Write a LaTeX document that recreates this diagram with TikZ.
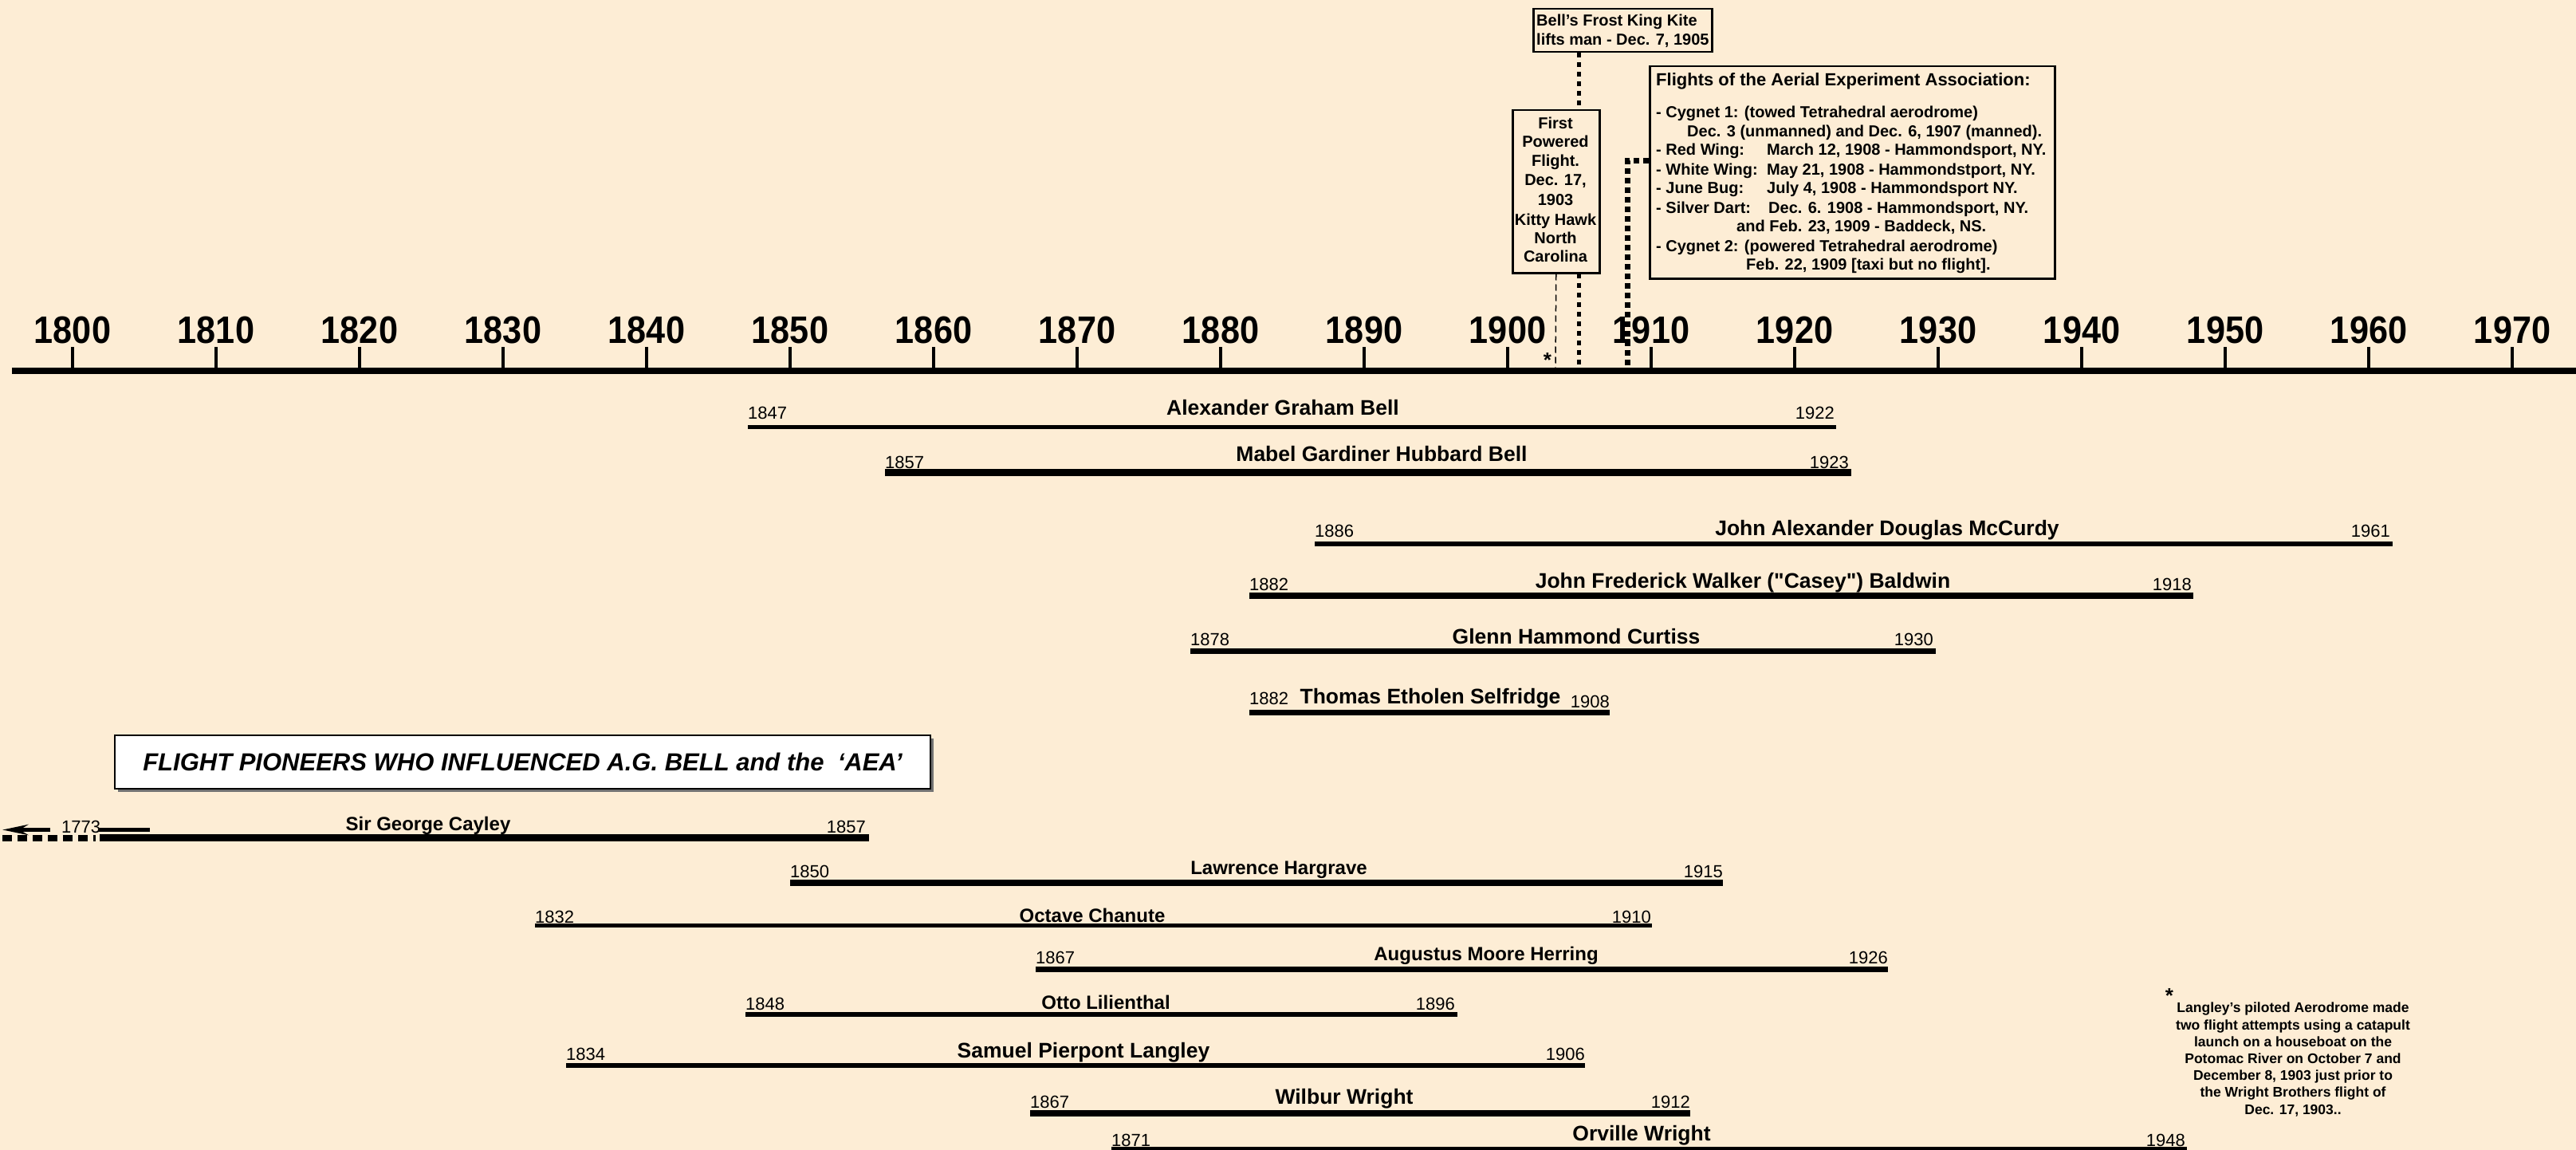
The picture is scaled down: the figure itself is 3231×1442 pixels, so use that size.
\documentclass[tikz,border=0pt]{standalone}
\usepackage{fontspec}
\setmainfont{Liberation Sans}
\newfontfamily\rawfont{Liberation Sans}
\usetikzlibrary{arrows.meta,calc}
\definecolor{bgc}{RGB}{253,237,213}
\tikzset{
  lifebar/.style={line width=#1},
  yrlab/.style={font=\fontsize{22}{22}\selectfont, inner sep=0pt},
  nameA/.style={font=\fontsize{26.5}{26.5}\selectfont\bfseries, inner sep=0pt, anchor=base},
  nameB/.style={font=\fontsize{24}{24}\selectfont\bfseries, inner sep=0pt, anchor=base},
  axislab/.style={font=\fontsize{48}{48}\selectfont\bfseries, inner sep=0pt, anchor=base},
  tickmark/.style={line width=4pt},
  axisline/.style={line width=8pt},
  boxtxt/.style={font=\fontsize{20}{20}\selectfont\bfseries, inner sep=0pt},
  notetxt/.style={font=\fontsize{17.5}{17.5}\selectfont\bfseries, inner sep=0pt, anchor=base},
  notebox/.style={draw, fill=bgc, line width=2.5pt, inner sep=0pt, anchor=north west},
  frostdots/.style={line width=5pt, dash pattern=on 6pt off 6pt},
  sqdots/.style={line width=7pt, dash pattern=on 7pt off 5pt},
  thindash/.style={line width=1.5pt, dash pattern=on 8pt off 5pt},
}
\begin{document}
\begin{tikzpicture}[x=1pt,y=-1pt]
\fill[bgc] (0,0) rectangle (3231,1442);
\useasboundingbox (0,0) rectangle (3231,1442);

% ---------- axis ----------
\coordinate (axl) at (15,465);
\coordinate (axr) at (3231,465);
\draw[axisline] (axl) -- (axr);
\foreach \i in {0,...,17}{
  \pgfmathtruncatemacro\yy{1800+10*\i}
  \pgfmathsetmacro\xx{91+180*\i}
  \draw[tickmark] (\xx,435) -- (\xx,462);
  \node[axislab] (y\yy) at (\xx,430) {\scalebox{0.9}[1]{\yy}};
}
\coordinate (t1905) at (1980,461);
\coordinate (t1903) at (1951,461);
\coordinate (t1908) at (2041,461);

% ---------- Frost King box ----------
\node[notebox, minimum width=224, minimum height=54] (frost) at (1922,10) {};
\node[boxtxt, anchor=base west] (frost1) at (1927,33) {Bell's Frost King Kite};
\node[boxtxt, anchor=base west] (frost2) at (1927,57) {lifts man - Dec. 7, 1905};
\draw[frostdots] (t1905 |- frost.south) -- (t1905);

% ---------- First powered flight box (drawn over the dotted line) ----------
\node[notebox, minimum width=109, minimum height=204] (first) at (1896,137) {};
\foreach \t/\b [count=\k] in {First/162, Powered/185, Flight./208, {Dec. 17,}/233, 1903/257, Kitty Hawk/282, North/305, Carolina/328}{
  \node[boxtxt, anchor=base] (first\k) at (1951,\b) {\t};
}
\draw[thindash] (first.south) -- (t1903);
\node[font=\fontsize{26}{26}\selectfont\bfseries, inner sep=0pt] (star1) at (1941,452) {*};

% ---------- AEA flights box ----------
\node[notebox, minimum width=508, minimum height=266] (flights) at (2068,82) {};
\node[boxtxt, font=\fontsize{22}{22}\selectfont\bfseries, anchor=base west] (fl0) at (2077,108) {Flights of the Aerial Experiment Association:};
\node[boxtxt, anchor=base west] (fl1) at (2077,148) {- Cygnet 1: (towed Tetrahedral aerodrome)};
\node[boxtxt, anchor=base west] (fl2) at (2116,172) {Dec. 3 (unmanned) and Dec. 6, 1907 (manned).};
\node[boxtxt, anchor=base west] (fl3) at (2077,195) {- Red Wing:};
\node[boxtxt, anchor=base west] (fl3b) at (2216,195) {March 12, 1908 - Hammondsport, NY.};
\node[boxtxt, anchor=base west] (fl4) at (2077,219) {- White Wing:};
\node[boxtxt, anchor=base west] (fl4b) at (2216,219) {May 21, 1908 - Hammondstport, NY.};
\node[boxtxt, anchor=base west] (fl5) at (2077,243) {- June Bug:};
\node[boxtxt, anchor=base west] (fl5b) at (2216,243) {July 4, 1908 - Hammondsport NY.};
\node[boxtxt, anchor=base west] (fl6) at (2077,267) {- Silver Dart:};
\node[boxtxt, anchor=base west] (fl6b) at (2218,267) {Dec. 6. 1908 - Hammondsport, NY.};
\node[boxtxt, anchor=base west] (fl7) at (2178,290) {and Feb. 23, 1909 - Baddeck, NS.};
\node[boxtxt, anchor=base west] (fl8) at (2077,315) {- Cygnet 2: (powered Tetrahedral aerodrome)};
\node[boxtxt, anchor=base west] (fl9) at (2190,338) {Feb. 22, 1909 [taxi but no flight].};
\draw[sqdots] ($(flights.north west)+(0,120)$) -| (t1908);

% ---------- AEA members ----------
% Bell
\draw[lifebar=5pt] (938,535.5) -- (2303,535.5);
\node[nameA] (n1) at (1609,520) {Alexander Graham Bell};
\node[yrlab, anchor=base west] (b1) at (938,525) {1847};
\node[yrlab, anchor=base east] (d1) at (2301,525) {1922};
% Mabel
\draw[lifebar=9pt] (1110,592.5) -- (2322,592.5);
\node[nameA] (n2) at (1733,578) {Mabel Gardiner Hubbard Bell};
\node[yrlab, anchor=base west] (b2) at (1110,587) {1857};
\node[yrlab, anchor=base east] (d2) at (2319,587) {1923};
% McCurdy
\draw[lifebar=6pt] (1649,682) -- (3001,682);
\node[nameA] (n3) at (2367,671) {John Alexander Douglas McCurdy};
\node[yrlab, anchor=base west] (b3) at (1649,673) {1886};
\node[yrlab, anchor=base east] (d3) at (2998,673) {1961};
% Baldwin
\draw[lifebar=8pt] (1567,747) -- (2751,747);
\node[nameA, font=\rawfont\fontsize{26.5}{26.5}\selectfont\bfseries] (n4) at (2186,737) {John Frederick Walker ("Casey") Baldwin};
\node[yrlab, anchor=base west] (b4) at (1567,740) {1882};
\node[yrlab, anchor=base east] (d4) at (2749,740) {1918};
% Curtiss
\draw[lifebar=7pt] (1493,816.5) -- (2428,816.5);
\node[nameA] (n5) at (1977,807) {Glenn Hammond Curtiss};
\node[yrlab, anchor=base west] (b5) at (1493,809) {1878};
\node[yrlab, anchor=base east] (d5) at (2425,809) {1930};
% Selfridge
\draw[lifebar=7pt] (1567,893.5) -- (2019,893.5);
\node[nameA] (n6) at (1794,882) {Thomas Etholen Selfridge};
\node[yrlab, anchor=base west] (b6) at (1567,883) {1882};
\node[yrlab, anchor=base east] (d6) at (2019,887) {1908};

% ---------- title ----------
\fill[black!55] (148,926) rectangle (1171,993);
\node[draw, fill=white, line width=1.5pt, minimum width=1023, minimum height=67, inner sep=0pt,
      font=\fontsize{31}{31}\selectfont\bfseries\itshape] (title) at (655.5,955.5)
      {FLIGHT PIONEERS WHO INFLUENCED A.G. BELL and the\ \ `AEA'};

% ---------- pioneers ----------
% Cayley
\coordinate (cayA) at (3,1040.5);
\coordinate (cayB) at (63,1040.5);
\draw[line width=5pt, -{Stealth[length=32pt,width=13pt]}] (cayB) -- (cayA);
\node[yrlab, anchor=base west] (b7) at (77,1044) {1773};
\draw[line width=5pt] (123,1040.5) -- (188,1040.5);
\draw[line width=8pt, dash pattern=on 12pt off 7pt] (3,1050.5) -- (120,1050.5);
\draw[lifebar=9pt] (125,1050.5) -- (1090,1050.5);
\node[nameB] (n7) at (537,1041) {Sir George Cayley};
\node[yrlab, anchor=base east] (d7) at (1086,1044) {1857};
% Hargrave
\draw[lifebar=8pt] (991,1107) -- (2161,1107);
\node[nameB] (n8) at (1604,1096) {Lawrence Hargrave};
\node[yrlab, anchor=base west] (b8) at (991,1100) {1850};
\node[yrlab, anchor=base east] (d8) at (2161,1100) {1915};
% Chanute
\draw[lifebar=5pt] (671,1160.5) -- (2072,1160.5);
\node[nameB] (n9) at (1370,1156) {Octave Chanute};
\node[yrlab, anchor=base west] (b9) at (671,1157) {1832};
\node[yrlab, anchor=base east] (d9) at (2071,1157) {1910};
% Herring
\draw[lifebar=7pt] (1299,1215.5) -- (2368,1215.5);
\node[nameB] (n10) at (1864,1204) {Augustus Moore Herring};
\node[yrlab, anchor=base west] (b10) at (1299,1208) {1867};
\node[yrlab, anchor=base east] (d10) at (2368,1208) {1926};
% Lilienthal
\draw[lifebar=6pt] (935,1272) -- (1828,1272);
\node[nameB] (n11) at (1387,1265) {Otto Lilienthal};
\node[yrlab, anchor=base west] (b11) at (935,1266) {1848};
\node[yrlab, anchor=base east] (d11) at (1825,1266) {1896};
% Langley
\draw[lifebar=6pt] (710,1336) -- (1988,1336);
\node[nameA] (n12) at (1359,1326) {Samuel Pierpont Langley};
\node[yrlab, anchor=base west] (b12) at (710,1329) {1834};
\node[yrlab, anchor=base east] (d12) at (1988,1329) {1906};
% Wilbur
\draw[lifebar=8pt] (1292,1396) -- (2120,1396);
\node[nameA] (n13) at (1686,1384) {Wilbur Wright};
\node[yrlab, anchor=base west] (b13) at (1292,1389) {1867};
\node[yrlab, anchor=base east] (d13) at (2120,1389) {1912};
% Orville
\draw[lifebar=6pt] (1394,1441) -- (2743,1441);
\node[nameA] (n14) at (2059,1430) {Orville Wright};
\node[yrlab, anchor=base west] (b14) at (1394,1437) {1871};
\node[yrlab, anchor=base east] (d14) at (2741,1437) {1948};

% ---------- footnote ----------
\node[font=\fontsize{26}{26}\selectfont\bfseries, inner sep=0pt] (star2) at (2721,1249) {*};
\foreach \t/\b [count=\k] in {{Langley's piloted Aerodrome made}/1269, {two flight attempts using a catapult}/1291, {launch on a houseboat on the}/1312, {Potomac River on October 7 and}/1333, {December 8, 1903 just prior to}/1354, {the Wright Brothers flight of}/1375, {Dec. 17, 1903..}/1397}{
  \node[notetxt] (note\k) at (2876,\b) {\t};
}
\end{tikzpicture}
\end{document}
